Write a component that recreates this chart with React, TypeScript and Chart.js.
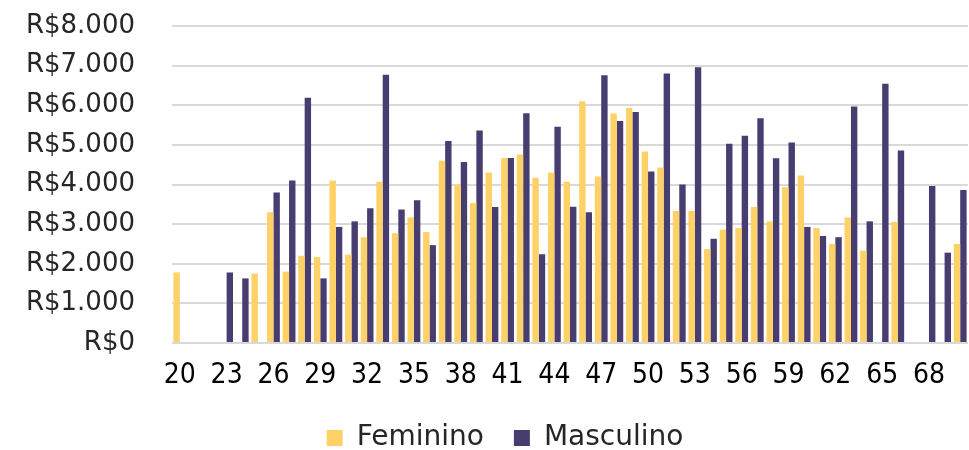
import React, { useEffect, useRef } from 'react';
import { Chart, registerables } from 'chart.js';

Chart.register(...registerables);

const ages: string[] = [
  '20', '21', '22', '23', '24', '25', '26', '27', '28', '29',
  '30', '31', '32', '33', '34', '35', '36', '37', '38', '39',
  '40', '41', '42', '43', '44', '45', '46', '47', '48', '49',
  '50', '51', '52', '53', '54', '55', '56', '57', '58', '59',
  '60', '61', '62', '63', '64', '65', '66', '67', '68', '69', '70',
];

const feminino: (number | null)[] = [
  1780, null, null, null, null, 1750, 3300, 1800, 2200, 2170,
  4100, 2230, 2670, 4070, 2770, 3170, 2800, 4600, 4000, 3530,
  4300, 4670, 4760, 4170, 4300, 4070, 6100, 4200, 5790, 5930,
  4830, 4430, 3330, 3330, 2370, 2860, 2900, 3430, 3070, 3930,
  4230, 2900, 2500, 3170, 2330, null, 3060, null, null, null, 2500,
];

const masculino: (number | null)[] = [
  null, null, null, 1780, 1630, null, 3800, 4100, 6190, 1630,
  2930, 3070, 3400, 6770, 3370, 3600, 2470, 5100, 4570, 5360,
  3430, 4670, 5800, 2240, 5460, 3440, 3300, 6760, 5600, 5830,
  4330, 6800, 4000, 6960, 2630, 5030, 5230, 5670, 4660, 5060,
  2930, 2700, 2670, 5970, 3070, 6540, 4860, null, 3960, 2280, 3860,
];

const seriesNames = ['Feminino', 'Masculino'];
const yMax = 8000;
const yStep = 1000;

function formatBRL(v: number): string {
  const s = Math.round(v).toString();
  return 'R$' + s.replace(/\B(?=(\d{3})+(?!\d))/g, '.');
}

const legendShift = {
  id: 'legendShift',
  afterLayout(chart: any) {
    if (chart.legend) {
      chart.legend.left += 17;
      chart.legend.right += 17;
    }
  },
};

export default function App() {
  const canvasRef = useRef<HTMLCanvasElement | null>(null);

  useEffect(() => {
    if (!canvasRef.current) return;
    const chart = new Chart(canvasRef.current, {
      type: 'bar',
      data: {
        labels: ages,
        datasets: [
          {
            label: seriesNames[0],
            data: feminino,
            backgroundColor: '#FFD166',
            borderWidth: 0,
            barPercentage: 1.0,
            categoryPercentage: 0.82,
          },
          {
            label: seriesNames[1],
            data: masculino,
            backgroundColor: '#473D70',
            borderWidth: 0,
            barPercentage: 1.0,
            categoryPercentage: 0.82,
          },
        ],
      },
      plugins: [legendShift],
      options: {
        animation: false,
        responsive: true,
        maintainAspectRatio: false,
        layout: { padding: { top: 26, right: 1, left: 8, bottom: -12 } },
        plugins: {
          tooltip: { enabled: false },
          legend: {
            position: 'bottom',
            labels: {
              boxWidth: 16,
              boxHeight: 16,
              padding: 30,
              color: '#262626',
              font: { family: "'DejaVu Sans', sans-serif", size: 28 },
            },
          },
        },
        scales: {
          x: {
            afterFit: (s: any) => { s.height = 51; },
            grid: { display: true, color: 'rgba(0,0,0,0)', drawTicks: true, tickLength: 16, tickColor: 'rgba(0,0,0,0)' },
            border: { display: false },
            ticks: {
              autoSkip: false,
              maxRotation: 0,
              minRotation: 0,
              padding: 0,
              color: '#000',
              font: { family: "'Liberation Sans Narrow', 'DejaVu Sans Condensed', sans-serif", size: 28 },
              callback: (_v: any, i: number) => (i % 3 === 0 ? ages[i] : ''),
            },
          },
          y: {
            min: 0,
            max: yMax,
            afterFit: (s: any) => { s.width = 164; },
            border: { display: false },
            grid: { color: '#D9D9D9', lineWidth: 2, drawTicks: true, tickLength: 35, tickColor: 'rgba(0,0,0,0)' },
            ticks: {
              stepSize: yStep,
              autoSkip: false,
              padding: 2,
              color: '#262626',
              font: { family: "'DejaVu Sans', sans-serif", size: 26 },
              callback: (v: any) => formatBRL(Number(v)),
            },
          },
        },
      },
    });
    return () => chart.destroy();
  }, []);

  return (
    <div style={{ position: 'fixed', left: 0, top: 0, width: 969, height: 450, background: '#fff' }}>
      <canvas ref={canvasRef} />
    </div>
  );
}
